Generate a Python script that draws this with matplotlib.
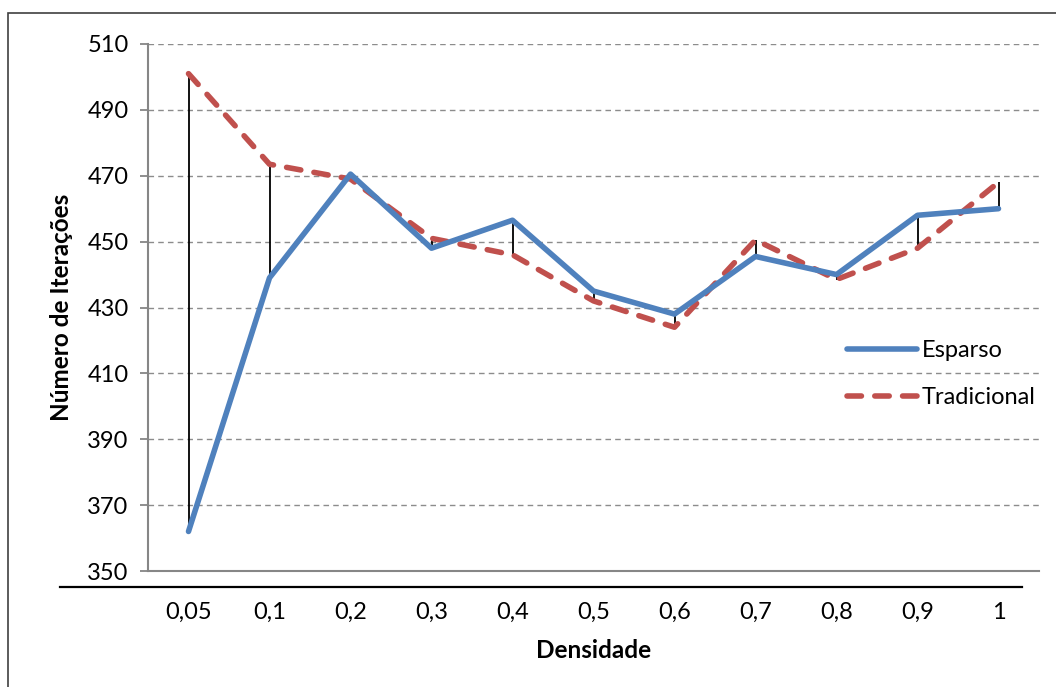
import matplotlib.pyplot as plt
from matplotlib.lines import Line2D
from matplotlib.patches import Rectangle

densidade = ['0,05', '0,1', '0,2', '0,3', '0,4', '0,5', '0,6', '0,7', '0,8', '0,9', '1']
esparso = [362, 439, 470.5, 448, 456.5, 435, 428, 445.5, 440, 458, 460]
tradicional = [501, 473.5, 469, 451, 446, 432, 424, 450.5, 438.5, 448, 468]
y_ticks = [350, 370, 390, 410, 430, 450, 470, 490, 510]

plt.rcParams['font.family'] = ['Lato', 'DejaVu Sans']

W, H = 1056, 687
fig = plt.figure(figsize=(W / 100, H / 100), dpi=100)
ax = fig.add_axes([148 / W, 1 - 571 / H, (1039 - 148) / W, (571 - 44) / H])

x = list(range(len(densidade)))

# linhas de máximo/mínimo entre as duas séries
ax.vlines(x, [min(a, b) for a, b in zip(esparso, tradicional)],
          [max(a, b) for a, b in zip(esparso, tradicional)],
          color='black', lw=1.3, zorder=2)

ax.plot(x, esparso, color='#4F81BD', lw=4, solid_capstyle='round',
        label='Esparso', zorder=4)
ax.plot(x, tradicional, color='#C0504D', lw=4, dashes=(2.6, 2.4),
        dash_capstyle='round', label='Tradicional', zorder=3)

ax.set_xlim(-0.5, len(densidade) - 0.5)
ax.set_ylim(350, 510)
ax.set_yticks(y_ticks)
ax.set_xticks(x)
ax.set_xticklabels(densidade)
ax.yaxis.grid(True, color='#8C8C8C', ls=(0, (4, 3)), lw=1)
ax.set_axisbelow(True)

for s in ['top', 'right']:
    ax.spines[s].set_visible(False)
for s in ['left', 'bottom']:
    ax.spines[s].set_color('#868686')
    ax.spines[s].set_linewidth(1.5)

ax.tick_params(axis='y', length=6, width=1.3, color='#868686', labelsize=17, pad=8)
ax.tick_params(axis='x', length=0, labelsize=17, pad=22)

ax.set_xlabel('Densidade', fontsize=17.5, fontweight='bold', labelpad=12)
ax.set_ylabel('Número de Iterações', fontsize=17.5, fontweight='bold', labelpad=10)

leg = ax.legend(loc='center left', bbox_to_anchor=(0.761, 0.374), frameon=False,
                fontsize=17, handlelength=2.95, labelspacing=1.1, handletextpad=0.2)

# linha preta sob o eixo e moldura do gráfico
fig.add_artist(Line2D([60 / W, 1022 / W], [1 - 587 / H, 1 - 587 / H],
                      color='black', lw=1.6))
fig.add_artist(Rectangle((8 / W, -0.1), 1.2, 1 - 13 / H + 0.1, fill=False,
                         ec='#404040', lw=1.2, transform=fig.transFigure))

plt.savefig('out.png', dpi=100)
